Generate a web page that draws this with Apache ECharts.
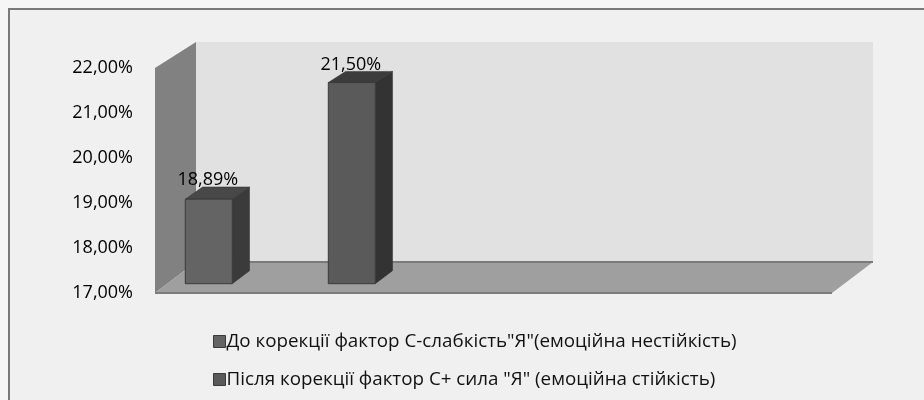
<!DOCTYPE html>
<html>
<head>
<meta charset="utf-8">
<script src="https://cdn.jsdelivr.net/npm/echarts@6/dist/echarts.min.js"></script>
<style>
  html, body { margin: 0; padding: 0; background: #f6f6f6; }
  #chart { width: 924px; height: 400px; }
</style>
</head>
<body>
<div id="chart"></div>
<script>
// chart data
const seriesNames = [
  'До корекції фактор С-слабкість"Я"(емоційна нестійкість)',
  'Після корекції фактор С+ сила "Я" (емоційна стійкість)'
]
const values = [18.89, 21.5]
const yTicks = [17, 18, 19, 20, 21, 22]

// look of the 3d boxes
const faceColors = [
  { front: '#646464', top: '#484848', side: '#3b3b3b' },
  { front: '#5a5a5a', top: '#3c3c3c', side: '#333333' }
]
const barOffsets = [18, 161]
const barWidth = 47
const depthX = 41
const depthTop = -26
const depthBottom = -31
const barNear = 0.3
const barFar = 0.72

const fmt = (v) => v.toFixed(2).replace('.', ',') + '%'

function shift(cs, pt, k) {
  // move a front-plane point back into the box, with a bit of perspective
  const t = (pt[1] - cs.y) / cs.height
  const dy = depthTop + (depthBottom - depthTop) * t
  return [pt[0] + depthX * k, pt[1] + dy * k]
}

function renderWalls(params, api) {
  const cs = params.coordSys
  const fl = [cs.x, cs.y], fr = [cs.x + cs.width, cs.y]
  const bl = [cs.x, cs.y + cs.height], br = [cs.x + cs.width, cs.y + cs.height]
  const tl = shift(cs, fl, 1), tr = shift(cs, fr, 1)
  const ul = shift(cs, bl, 1), ur = shift(cs, br, 1)
  return {
    type: 'group',
    children: [
      { type: 'polygon', shape: { points: [tl, tr, ur, ul] }, style: { fill: '#e1e1e1' } },
      { type: 'polygon', shape: { points: [fl, tl, ul, bl] }, style: { fill: '#818181' } },
      { type: 'polygon', shape: { points: [bl, ul, ur, br] }, style: { fill: '#9f9f9f' } },
      { type: 'polyline', shape: { points: [ul, ur] }, style: { stroke: '#7a7a7a', lineWidth: 2, fill: null } },
      { type: 'polyline', shape: { points: [bl, br] }, style: { stroke: '#7c7c7c', lineWidth: 2, fill: null } }
    ]
  }
}

function makeRender(idx) {
  return function (params, api) {
    const cs = params.coordSys
    const x0 = cs.x + barOffsets[idx]
    const yTop = api.coord([0, api.value(1)])[1]
    const yBase = api.coord([0, yTicks[0]])[1]
    const a = shift(cs, [x0, yTop], barNear)
    const b = shift(cs, [x0 + barWidth, yTop], barNear)
    const c = shift(cs, [x0 + barWidth, yBase], barNear)
    const d = shift(cs, [x0, yBase], barNear)
    const a2 = shift(cs, [x0, yTop], barFar)
    const b2 = shift(cs, [x0 + barWidth, yTop], barFar)
    const c2 = shift(cs, [x0 + barWidth, yBase], barFar)
    const col = faceColors[idx]
    return {
      type: 'group',
      children: [
        { type: 'polygon', shape: { points: [b, b2, c2, c] }, style: { fill: col.side, stroke: '#2e2e2e', lineWidth: 0.5 } },
        { type: 'polygon', shape: { points: [a, a2, b2, b] }, style: { fill: col.top, stroke: '#2e2e2e', lineWidth: 0.5 } },
        { type: 'polygon', shape: { points: [a, b, c, d] }, style: { fill: col.front, stroke: '#3a3a3a', lineWidth: 1 } },
        {
          type: 'text',
          style: {
            x: (a[0] + b[0]) / 2 - 1,
            y: a2[1] + 2,
            text: fmt(api.value(1)),
            font: '18px "Open Sans"',
            fill: '#000',
            align: 'center',
            verticalAlign: 'bottom'
          }
        }
      ]
    }
  }
}

const chart = echarts.init(document.getElementById('chart'))
chart.setOption({
  backgroundColor: 'transparent',
  animation: false,
  textStyle: { fontFamily: '"Open Sans"' },
  graphic: [
    {
      type: 'rect',
      z: -10,
      shape: { x: 9, y: 9, width: 1000, height: 1000 },
      style: { fill: '#f0f0f0', stroke: '#7a7a7a', lineWidth: 2 }
    }
  ],
  grid: { left: 155, right: 92, top: 68, bottom: 107 },
  xAxis: {
    type: 'category',
    data: [''],
    axisLine: { show: false },
    axisTick: { show: false },
    axisLabel: { show: false }
  },
  yAxis: {
    type: 'value',
    min: yTicks[0],
    max: yTicks[yTicks.length - 1],
    interval: 1,
    axisLine: { show: false },
    axisTick: { show: false },
    splitLine: { show: false },
    axisLabel: { margin: 22, fontSize: 18, color: '#000', formatter: fmt }
  },
  legend: {
    data: seriesNames,
    orient: 'vertical',
    left: 208,
    top: 327,
    itemWidth: 12,
    itemHeight: 12,
    itemGap: 19,
    icon: 'rect',
    itemStyle: { borderColor: '#3a3a3a', borderWidth: 1 },
    textStyle: { fontSize: 18.8, color: '#111', padding: [0, 0, 0, -4] }
  },
  series: [
    {
      type: 'custom',
      name: 'walls',
      silent: true,
      z: 1,
      renderItem: renderWalls,
      data: [[0, yTicks[0]]]
    },
    ...seriesNames.map((name, i) => ({
      type: 'custom',
      name: name,
      z: 2,
      itemStyle: { color: faceColors[i].front },
      renderItem: makeRender(i),
      data: [[0, values[i]]]
    }))
  ]
})
</script>
</body>
</html>
